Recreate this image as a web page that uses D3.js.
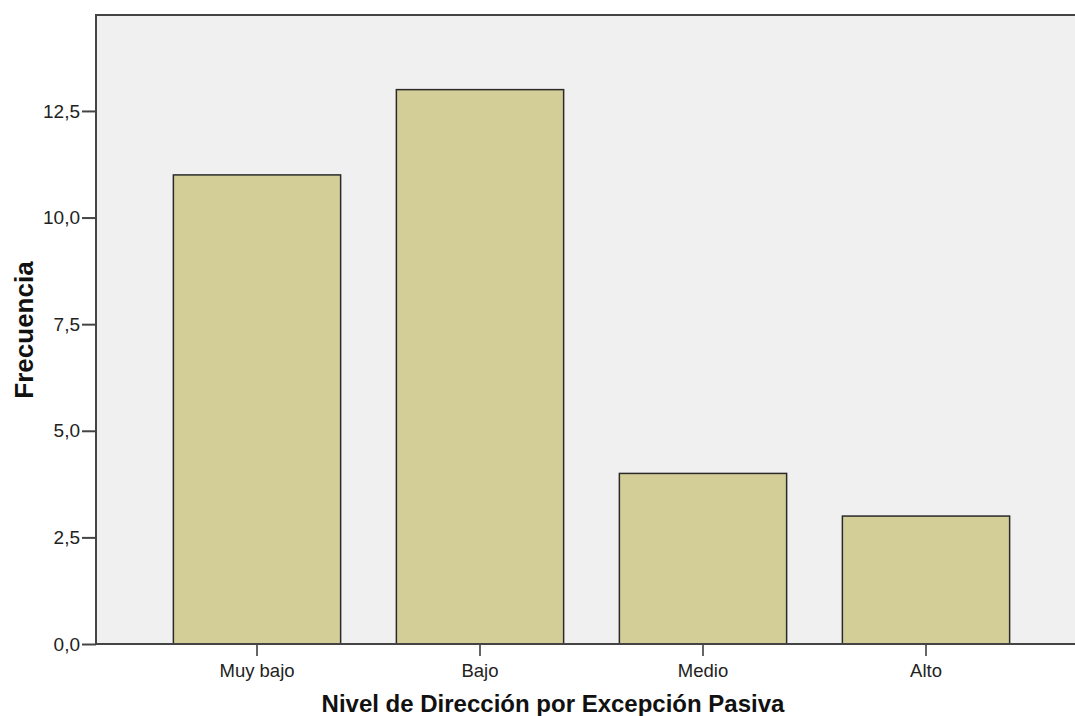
<!DOCTYPE html>
<html>
<head>
<meta charset="utf-8">
<script src="https://cdn.jsdelivr.net/npm/d3@7"></script>
<style>
  body { margin: 0; background: #fff; }
  text { font-family: Arial, "Liberation Sans", sans-serif; fill: #222; }
</style>
</head>
<body>
<div id="chart"></div>
<script>
// chart data
const categories = ["Muy bajo", "Bajo", "Medio", "Alto"];
const counts = [11, 13, 4, 3];
const yTicks = [0, 2.5, 5, 7.5, 10, 12.5];

const width = 1075, height = 716;
const plot = {left: 96, top: 15, right: 1075, bottom: 644};

let svg = d3.select("#chart")
    .append("svg")
    .attr("width", width)
    .attr("height", height);

// y scale: 12,5 sits at y=110
let y = d3.scaleLinear()
    .domain([0, 14.75])
    .range([plot.bottom, plot.top]);

let x = d3.scaleBand()
    .domain(categories)
    .range([145, 1037])
    .paddingInner(0.25)
    .paddingOuter(0.125);

// plot background
svg.append("rect")
    .attr("x", plot.left)
    .attr("y", plot.top)
    .attr("width", plot.right - plot.left)
    .attr("height", plot.bottom - plot.top)
    .style("fill", "#f0f0f0");

// bars
svg.selectAll(".bar")
    .data(counts)
    .enter()
    .append("rect")
    .attr("class", "bar")
    .attr("x", (d, i) => x(categories[i]) + 0.5)
    .attr("y", d => y(d))
    .attr("width", x.bandwidth())
    .attr("height", d => plot.bottom - y(d))
    .style("fill", "#d3ce97")
    .style("stroke", "#2a2a2a")
    .style("stroke-width", 1.5);

// top frame line
svg.append("line")
    .attr("x1", plot.left).attr("x2", plot.right)
    .attr("y1", plot.top).attr("y2", plot.top)
    .style("stroke", "#444").style("stroke-width", 2);

// y axis
let fmt = d => d3.format(".1f")(d).replace(".", ",");
let yAxis = svg.append("g")
    .attr("transform", `translate(${plot.left}, 0)`)
    .call(d3.axisLeft(y).tickValues(yTicks).tickFormat(fmt).tickSize(14).tickPadding(2));
yAxis.select(".domain").remove();
yAxis.selectAll(".tick line").style("stroke", "#444").style("stroke-width", 2);
yAxis.selectAll(".tick text").style("font-size", "19px").style("fill", "#222")
    .style("font-family", "Arial, 'Liberation Sans', sans-serif");

svg.append("line")
    .attr("x1", plot.left).attr("x2", plot.left)
    .attr("y1", plot.top - 1).attr("y2", plot.bottom + 1)
    .style("stroke", "#444").style("stroke-width", 2);

// x axis
let xAxis = svg.append("g")
    .attr("transform", `translate(0.5, ${plot.bottom})`)
    .call(d3.axisBottom(x).tickSize(12).tickPadding(8));
xAxis.select(".domain").remove();
xAxis.selectAll(".tick line").style("stroke", "#333").style("stroke-width", 1.5);
xAxis.selectAll(".tick text").style("font-size", "18.5px").style("fill", "#222")
    .style("font-family", "Arial, 'Liberation Sans', sans-serif");

svg.append("line")
    .attr("x1", plot.left - 1).attr("x2", plot.right)
    .attr("y1", plot.bottom).attr("y2", plot.bottom)
    .style("stroke", "#444").style("stroke-width", 2);

// axis titles
svg.append("text")
    .attr("x", 553)
    .attr("y", 712)
    .style("text-anchor", "middle")
    .style("font-size", "24px")
    .style("font-weight", "bold")
    .style("fill", "#111")
    .text("Nivel de Dirección por Excepción Pasiva");

svg.append("text")
    .attr("transform", `translate(33, 330) rotate(-90)`)
    .style("text-anchor", "middle")
    .style("font-size", "26px")
    .style("font-weight", "bold")
    .style("fill", "#111")
    .text("Frecuencia");
</script>
</body>
</html>
